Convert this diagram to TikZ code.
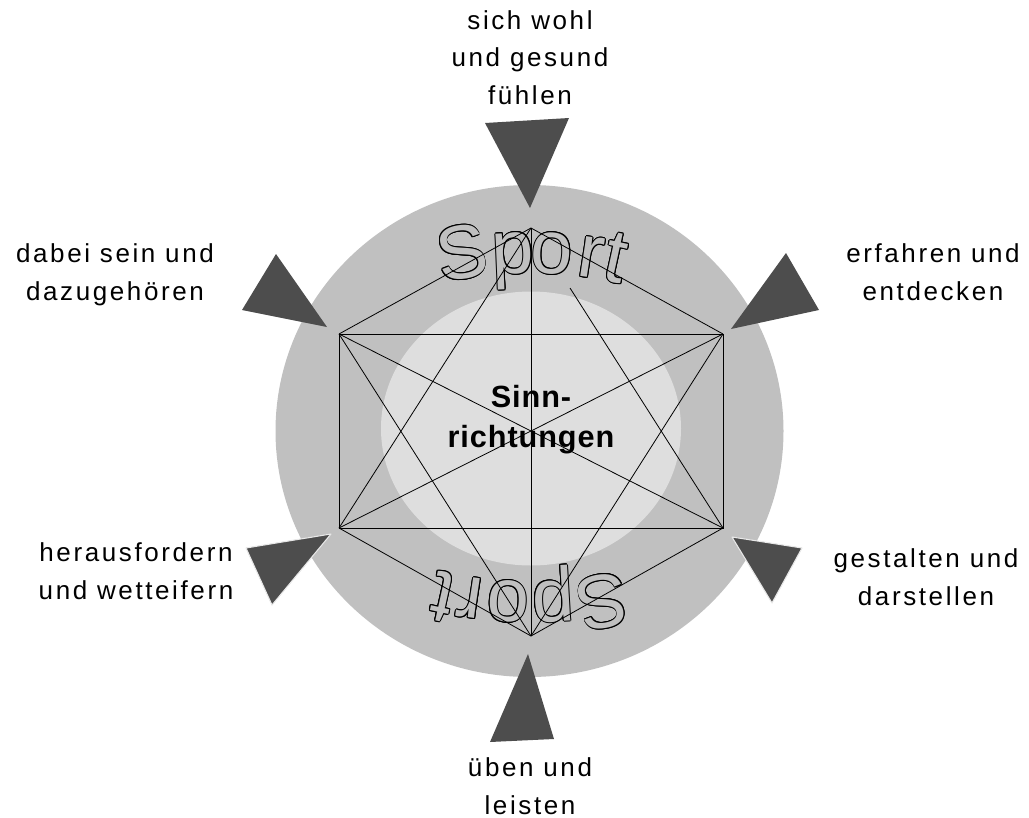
\documentclass[tikz,border=0pt]{standalone}
\usepackage{fontspec}
\setmainfont{Liberation Sans}
\newfontfamily\labelfont[LetterSpace=10]{Liberation Sans}
\newfontfamily\centerfont[LetterSpace=3]{Liberation Sans Bold}
\definecolor{outergrey}{HTML}{C0C0C0}
\definecolor{innergrey}{HTML}{DEDEDE}
\definecolor{tri}{HTML}{4D4D4D}
\definecolor{triedge}{HTML}{E8E8E8}
\newcommand\outlinedletter[4]{%
  \foreach \a in {0,30,...,330}{\node[sportletter,text=black,rotate=#3] at ([shift={(\a:0.7pt)}]#2) {#4};}
  \node[sportletter,text=outergrey,rotate=#3] (#1) at (#2) {#4};
}
\begin{document}
\begin{tikzpicture}[x=0.75pt,y=-0.75pt,
  lbl/.style={font=\labelfont\fontsize{19.5}{28}\selectfont, align=center, inner sep=0pt, anchor=base},
  centerlbl/.style={font=\centerfont\fontsize{23}{30}\selectfont, align=center, inner sep=0pt, anchor=base},
  sportletter/.style={font=\fontsize{57}{57}\selectfont, inner sep=0pt, anchor=base},
  net/.style={line width=0.6pt, draw=black},
  arrowtri/.style={fill=tri},
  arrowtriedge/.style={fill=tri, draw=triedge, line width=0.8pt, line join=round}]
\useasboundingbox (0,0) rectangle (1029,818);
% discs
\fill[outergrey] (529.5,431) ellipse [x radius=254, y radius=246];
\fill[innergrey] (531,428.5) ellipse [x radius=150, y radius=137];
% outlined "Sport" on top arc
\foreach \n/\t/\l in {t1/-9.70/S, t2/-2.41/p, t3/3.17/o, t4/8.78/r, t5/12.31/t}{
  \coordinate (c\n) at ({530+380*sin(\t)},{273+380*(1-cos(\t))});
  \outlinedletter{sp\n}{c\n}{-\t}{\l}
}
% outlined "Sport" upside down on bottom arc
\foreach \n/\t/\l in {b1/10.31/S, b2/3.32/p, b3/-3.17/o, b4/-8.62/r, b5/-12.46/t}{
  \coordinate (c\n) at ({530+380*sin(\t)},{582-380*(1-cos(\t))});
  \outlinedletter{sp\n}{c\n}{180+\t}{\l}
}
% network
\coordinate (T) at (531,228);
\coordinate (B) at (531,636);
\coordinate (A) at (339,334);
\coordinate (R) at (723,334);
\coordinate (C) at (723,528);
\coordinate (D) at (339,528);
\coordinate (P) at (570,288);
\draw[net] (A) rectangle (C);
\draw[net] (A) -- (C);
\draw[net] (R) -- (D);
\draw[net] (T) -- (A);
\draw[net] (T) -- (R);
\draw[net] (T) -- (D);
\draw[net] (T) -- (B);
\draw[net] (P) -- (C);
\draw[net] (B) -- (D);
\draw[net] (B) -- (C);
\draw[net] (B) -- (A);
\draw[net] (B) -- (R);
% triangles
\fill[arrowtri] (485,123) -- (569,118) -- (530,208) -- cycle;
\fill[arrowtri] (528,654) -- (554,739) -- (490,742) -- cycle;
\fill[arrowtri] (276,254) -- (327,327) -- (242,310) -- cycle;
\fill[arrowtri] (786,253) -- (819,310) -- (731,329) -- cycle;
\filldraw[arrowtriedge] (246,548) -- (331,534) -- (272,605) -- cycle;
\filldraw[arrowtriedge] (732,537) -- (802,548) -- (772,603) -- cycle;
% labels (base anchor = baseline of the last line)
\node[centerlbl] (center) at (531,447) {Sinn-\\richtungen};
\node[lbl] (top) at (530,104) {sich wohl\\und gesund\\fühlen};
\node[lbl] (ul) at (115,300) {dabei sein und\\dazugehören};
\node[lbl] (ur) at (933,300) {erfahren und\\entdecken};
\node[lbl] (ll) at (136,599) {herausfordern\\und wetteifern};
\node[lbl] (lr) at (926,605) {gestalten und\\darstellen};
\node[lbl] (bot) at (530,814) {üben und\\leisten};
\end{tikzpicture}
\end{document}
